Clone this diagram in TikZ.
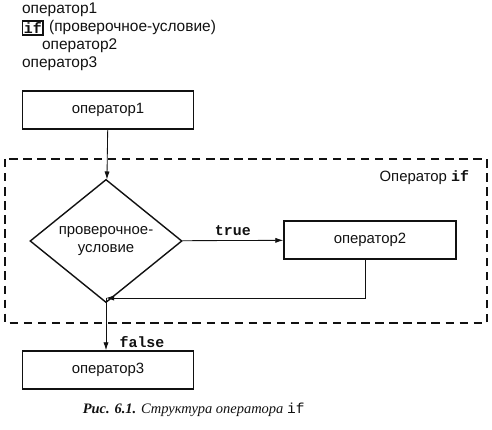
\documentclass[tikz,border=0pt]{standalone}
\usepackage{fontspec}
\setmainfont{Liberation Sans}
\setmonofont{Liberation Mono}
\newfontfamily\capfont{Liberation Serif}
\usepackage{tikz}
\usetikzlibrary{arrows.meta,positioning,shapes.geometric,calc}
\definecolor{IfInk}{HTML}{111111}
\tikzset{
  stmtbox/.style={draw=IfInk, line width=1pt, minimum width=4.275cm, minimum height=0.95cm, inner sep=0pt},
  condbox/.style={draw=IfInk, line width=1pt, diamond, minimum width=3.8cm, minimum height=2.35cm, inner sep=0pt, align=center},
  flow/.style={-{Latex[length=2mm,width=1.3mm]}, line width=0.6pt, draw=IfInk},
  kw/.style={font=\ttfamily\bfseries\fontsize{10.6}{12}\selectfont},
  codeline/.style={anchor=west, inner sep=0pt, font=\fontsize{11}{13}\selectfont}
}

\begin{document}
\begin{tikzpicture}[every node/.style={font=\fontsize{10.6}{12.5}\selectfont, text=IfInk}]
\useasboundingbox (0,0) rectangle (12.3,-10.75);
\node[stmtbox] (op1) at (2.7,-2.75) {оператор1};
\node[condbox] (cond) at (2.65,-6.025) {проверочное-\\условие};
\node[stmtbox, minimum width=4.3cm] (op2) at (9.25,-6.0) {оператор2};
\node[stmtbox] (op3) at (2.7,-9.25) {оператор3};
\coordinate (join) at (2.65,-7.45);

\node[codeline] (c1) at ($(op1.west)+(0,2.5)$) {оператор1};
\node[draw=IfInk, line width=1.1pt, inner sep=1pt, anchor=west, kw] (cif) at ($(op1.west)+(0,2.05)$) {if};
\node[codeline, right=0.12cm of cif] (ccond) {(проверочное-условие)};
\node[codeline] (c2) at ($(op1.west)+(0.5,1.6)$) {оператор2};
\node[codeline] (c3) at ($(op1.west)+(0,1.15)$) {оператор3};

\draw[IfInk, line width=1.4pt, dash pattern=on 6pt off 4pt] (0.125,-3.975) rectangle (12.175,-8.075);
\node[anchor=east] (lbl) at (11.85,-4.43) {Оператор {\ttfamily\bfseries if}};

\draw[flow] (op1)--(cond);
\draw[flow] (cond)--node[above, kw] {true} (op2);
\draw[line width=0.6pt, IfInk] (cond.south)--(cond.south |- join);
\draw[flow] (cond.south |- join)--(op3.north -| cond.south);
\draw[flow] ($(op2.south)+(-0.12,0)$)|-(join);
\node[kw] (lfalse) at (3.55,-8.55) {false};

\node[font=\capfont\itshape\fontsize{10.3}{12}\selectfont] (cap) at (4.84,-10.25) {\textbf{Рис. 6.1.} Структура оператора {\ttfamily\upshape if}};
\end{tikzpicture}
\end{document}
